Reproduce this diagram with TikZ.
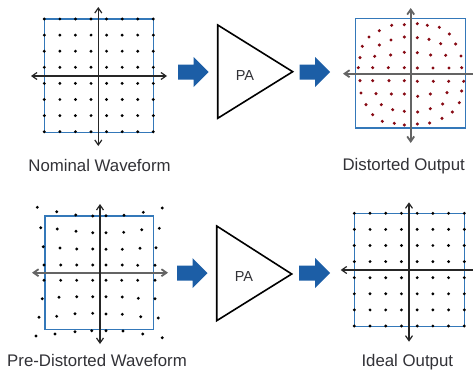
\documentclass[tikz,border=0pt]{standalone}
\usepackage{fontspec}
\setmainfont{Liberation Sans}
\usetikzlibrary{arrows.meta}
\definecolor{boxblue}{RGB}{52,120,185}
\definecolor{arrowblue}{RGB}{28,94,166}
\definecolor{dotred}{RGB}{135,10,20}
\definecolor{txt}{RGB}{50,50,55}
\definecolor{axgray}{RGB}{100,100,100}
\newcommand\myblockarrow[4]{%
  \fill[arrowblue] (#2,#4-7.5) -- (#3-15,#4-7.5) -- (#3-15,#4-15) -- (#3,#4)
    -- (#3-15,#4+15) -- (#3-15,#4+7.5) -- (#2,#4+7.5) -- cycle;
  \coordinate (#1) at (#2,#4);}
\begin{document}
\begin{tikzpicture}[x=1pt,y=-1pt,
  axis/.style={line width=1.2pt, draw=black!85, {Straight Barb[length=5pt,width=7pt]}-{Straight Barb[length=5pt,width=7pt]}},
  axisgray/.style={line width=1.8pt, draw=axgray, {Straight Barb[length=5pt,width=7pt]}-{Straight Barb[length=5pt,width=7pt]}},
  frame/.style={draw=boxblue, line width=1.1pt},
  lbl/.style={font=\fontsize{16.8}{19}\selectfont, text=txt, inner sep=0pt, anchor=base},
  palbl/.style={font=\fontsize{14.5}{16}\selectfont, text=txt, inner sep=0pt, anchor=base},
  amp/.style={draw=black, line width=1.6pt, line join=miter}]
\useasboundingbox (0,0) rectangle (473,372);
\fill[white] (0,0) rectangle (473,372);

% ---------- Nominal waveform ----------
\draw[frame] (44.3,19) rectangle (153.3,132.5);
\foreach \i in {0,...,7}{
  \foreach \j in {0,...,7}{
    \fill (44.3+\i*15.571,19+\j*16.1) circle (1.6pt);
  }}
\draw[axis] (31,76) -- (167,76);
\draw[axis] (98.3,7) -- (98.3,146);
\node[lbl] (nom) at (99.5,171.5) {Nominal Waveform};

% ---------- Distorted output ----------
\draw[frame] (355.5,18.5) rectangle (465.5,128);
\foreach \x/\y in {391.67/25.33, 404.33/24.67, 417.33/23.67, 427.33/25.33, 439.33/27.33,
  379.33/30.67, 449.33/34,
  369/37, 391/40, 404.33/37, 417.33/37.67, 429/39.33, 440.67/43.67, 455.67/44,
  362.33/46.33, 379.33/45,
  360/57.67, 374.67/56.33, 390.67/55, 404.33/52.33, 417.33/52.67, 430.67/55, 445.67/55.33, 461/56,
  358.33/67.67, 372.67/67.67, 388.33/67.67, 404.33/67.67, 417.33/68, 433/68, 449/68, 461.67/67.67,
  360/80.67, 372.67/80.67, 389/80.67, 404.33/80.67, 417.33/81.33, 433.33/81.33, 448.67/81.33, 463.67/81.33,
  361/93, 376/93.67, 391.33/94, 404.33/94, 417.67/96.33, 430.33/94, 447/92.67, 461.67/91,
  366/104.67, 381.33/104.67, 392.67/109.67, 404.33/111.33, 417.67/112, 430.33/108.67, 442.67/104, 459.33/102.67,
  372.67/114.67, 452.33/112,
  382.33/121.33, 394.33/123.33, 404.33/125, 417.33/124, 429.67/123, 442/118.33}
  {\fill[dotred] (\x,\y) circle (1.7pt);}
\draw[axisgray] (343,73.7) -- (482,73.7);
\draw[axisgray] (410.7,8) -- (410.7,143);
\node[lbl] (dist) at (403.7,170) {Distorted Output};

% ---------- Pre-distorted waveform ----------
\draw[frame] (45,216) rectangle (153.7,329.7);
\foreach \x/\y in {37.3/207.3, 56.7/211.7, 75.7/215, 92.7/216, 106/215.7, 124/215.3, 143.3/212.3, 162.3/208,
  40.7/227.7, 57.3/229, 76/231.3, 92.7/232.7, 106/232.7, 123.7/232.3, 141.7/229.7, 159.3/228.3,
  43.3/246.7, 60/248, 76.7/249, 92.7/249, 106/249.3, 122.3/249.3, 140/248.3, 156/247.7,
  44/265, 60.7/265, 76.7/265, 92.7/265, 106/265, 122.3/265, 137.7/265.3, 155/265.3,
  44/280.3, 60.7/280.3, 76.7/280.3, 92.7/280.3, 106/280.3, 121.7/280.3, 137.7/280.3, 155/280.3,
  42.3/298.7, 59/297.3, 76.7/296.7, 92.7/296.7, 106/296.7, 122.3/297, 138.3/298.3, 155/298.7,
  39/317.3, 56.7/316.3, 75/313.7, 92.7/313.3, 106/314, 122.3/314.3, 140.7/316.7, 158.3/318,
  36/336, 55/334, 75/331.7, 91.7/330.7, 106/330.7, 123/331, 142.7/334, 162.3/337.7}
  {\fill (\x,\y) circle (1.6pt);}
\draw[axisgray] (32,272.7) -- (168,272.7);
\draw[axis] (100,204) -- (100,344);
\node[lbl] (pre) at (97,366) {Pre-Distorted Waveform};

% ---------- Ideal output ----------
\draw[frame] (354.3,213.3) rectangle (464.3,326.5);
\foreach \i in {0,...,7}{
  \foreach \j in {0,...,7}{
    \fill (354.3+\i*15.714,213.3+\j*16.1) circle (1.6pt);
  }}
\draw[axis] (340.7,270) -- (482,270);
\draw[axis] (409,202.3) -- (409,341.7);
\node[lbl] (ideal) at (407.3,366.5) {Ideal Output};

% ---------- PA amplifiers ----------
\draw[amp] (217.7,25) -- (292.7,71.7) -- (217.7,118.3) -- cycle;
\node[palbl] (pa1) at (245,80) {PA};
\draw[amp] (216.7,226) -- (291.7,274) -- (216.7,320.7) -- cycle;
\node[palbl] (pa2) at (244,281.7) {PA};

% ---------- block arrows ----------
\myblockarrow{a1}{178}{208.5}{72}
\myblockarrow{a2}{299.5}{330}{72}
\myblockarrow{a3}{177}{207.5}{273}
\myblockarrow{a4}{299}{330}{273}
\end{tikzpicture}
\end{document}
